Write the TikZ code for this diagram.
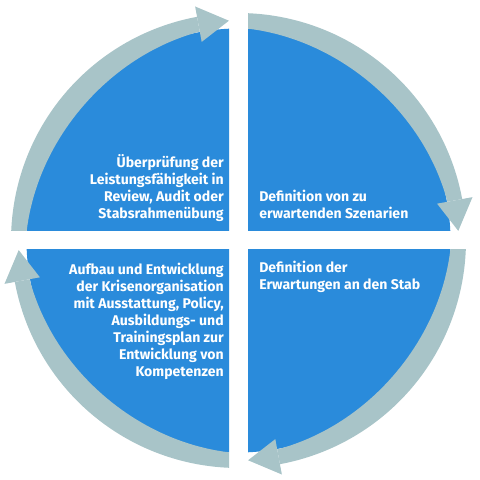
\documentclass[tikz,border=0pt]{standalone}
\usepackage{fontspec}
\setmainfont{Fira Sans}
\definecolor{qblue}{HTML}{2A8BDB}
\definecolor{qband}{HTML}{A8C4C8}
\begin{document}
\begin{tikzpicture}[x=0.025cm,y=0.025cm,
  head/.style={fill=qband},
  lbl/.style={text=white,font=\fontsize{10}{12.1}\selectfont\bfseries,inner sep=0pt}]
\useasboundingbox (0,0) rectangle (480,480);
\coordinate (C) at (238.5,239.5);
% quadrant: clip rectangle, start angle, base angle, tip angle
\newcommand\quadarrow[6]{%
  \begin{scope}
    \clip (#1) rectangle (#2);
    \fill[qblue] (C) circle[radius=212];
    \begin{scope}[shift={(C)}]
      \fill[head] plot[domain=#3:#4,samples=50] (\x:227.5)
        -- plot[domain=#4:#3,samples=50] (\x:{212.5-7*sin(180*(\x-(#3))/((#4)-(#3)))})
        -- cycle;
      \fill[head] (#4:202) -- (#5:220) -- (#4:238) -- cycle;
    \end{scope}
  \end{scope}}
\quadarrow{248,249}{480,480}{89}{10.5}{2.5}{}
\quadarrow{248,0}{480,230}{-1}{-79.5}{-87.5}{}
\quadarrow{0,0}{229,230}{-91}{-169.5}{-177.5}{}
\quadarrow{0,249}{229,480}{179}{100.5}{92.5}{}
\node[lbl,align=right,anchor=east] (t1) at (224,292) {Überprüfung der\\Leistungsfähigkeit in\\Review, Audit oder\\Stabsrahmenübung};
\node[lbl,align=left,anchor=west] (t2) at (259,276) {Definition von zu\\erwartenden Szenarien};
\node[lbl,align=left,anchor=west] (t3) at (259,203) {Definition der\\Erwartungen an den Stab};
\node[lbl,align=right,anchor=east] (t4) at (224,159) {Aufbau und Entwicklung\\der Krisenorganisation\\mit Ausstattung, Policy,\\Ausbildungs- und\\Trainingsplan zur\\Entwicklung von\\Kompetenzen};
\end{tikzpicture}
\end{document}
